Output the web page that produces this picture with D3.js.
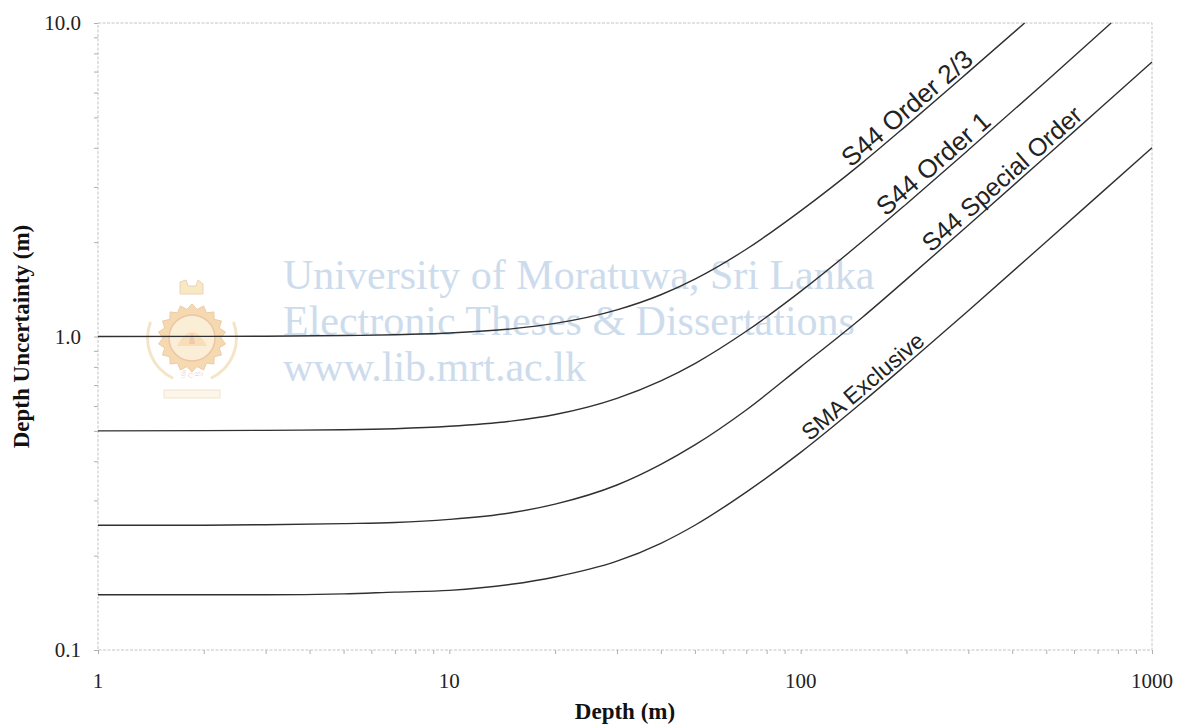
<!DOCTYPE html>
<html>
<head>
<meta charset="utf-8">
<script src="https://cdn.jsdelivr.net/npm/d3@7"></script>
<style>
  body { margin: 0; background: #fff; }
</style>
</head>
<body>
<div id="plot"></div>
<script>
// size of the page and the plot frame
const w = 1186;
const h = 727;
const margin = {top: 23, right: 34, bottom: 77, left: 98};

// data (depth in m, uncertainty in m)
const depth23 = [1, 2, 3, 5, 7, 10, 15, 20, 30, 40, 50, 70, 100, 150, 200, 300, 434];
const order23 = [1.000, 1.001, 1.002, 1.007, 1.013, 1.026, 1.058, 1.101, 1.216, 1.359, 1.524, 1.898, 2.517, 3.587, 4.707, 6.970, 10.0];

const depth1 = [1, 2, 3, 5, 7, 10, 15, 20, 30, 40, 50, 70, 100, 150, 200, 300, 500, 765];
const order1 = [0.500, 0.501, 0.502, 0.504, 0.508, 0.517, 0.537, 0.564, 0.635, 0.722, 0.820, 1.039, 1.393, 2.012, 2.648, 3.933, 6.519, 10.0];

const depthLow = [1, 2, 3, 5, 7, 10, 15, 20, 30, 40, 50, 70, 100, 150, 200, 300, 500, 700, 1000];
const special = [0.250, 0.250, 0.251, 0.253, 0.255, 0.261, 0.274, 0.292, 0.336, 0.391, 0.451, 0.583, 0.800, 1.152, 1.521, 2.264, 3.758, 5.256, 7.504];
const sma = [0.150, 0.150, 0.150, 0.151, 0.153, 0.155, 0.162, 0.171, 0.192, 0.219, 0.250, 0.319, 0.427, 0.618, 0.814, 1.209, 2.006, 2.804, 4.003];

const seriesNames = ["S44 Order 2/3", "S44 Order 1", "S44 Special Order", "SMA Exclusive"];
// depth where each curve label sits
const labelDepths = [212, 252, 395, 158];
const labelSizes = [26, 26, 25, 23];

const xTickLabels = ["1", "10", "100", "1000"];
const yTickLabels = ["0.1", "1.0", "10.0"];
const watermark = ["University of Moratuwa, Sri Lanka", "Electronic Theses & Dissertations", "www.lib.mrt.ac.lk"];

const series = [
  {name: seriesNames[0], x: depth23, y: order23},
  {name: seriesNames[1], x: depth1, y: order1},
  {name: seriesNames[2], x: depthLow, y: special},
  {name: seriesNames[3], x: depthLow, y: sma}
];

const svg = d3.select("div#plot")
  .append("svg")
    .attr("width", w)
    .attr("height", h);

const xScale = d3.scaleLog()
  .domain([1, 1000])
  .range([margin.left, w - margin.right]);

const yScale = d3.scaleLog()
  .domain([0.1, 10])
  .range([h - margin.bottom, margin.top]);

// watermark logo (faint)
const logo = svg.append("g")
  .attr("transform", "translate(192, 338)")
  .attr("opacity", 0.6);

const teeth = 18;
const gearPts = [];
for (let i = 0; i < teeth * 2; i++) {
  const a = i * Math.PI / teeth;
  const r = i % 2 === 0 ? 34 : 29;
  gearPts.push([r * Math.sin(a), -r * Math.cos(a)]);
}
logo.append("path")
  .attr("d", d3.line().curve(d3.curveLinearClosed)(gearPts))
  .attr("fill", "#f0c27e")
  .attr("stroke", "#e4a868")
  .attr("stroke-width", 1);
logo.append("circle")
  .attr("r", 23)
  .attr("fill", "#f9e3bd")
  .attr("stroke", "#e2a06a")
  .attr("stroke-width", 1.5);
logo.append("path")
  .attr("d", "M-15,8 Q0,-20 15,8 Z")
  .attr("fill", "#f3c98c");
logo.append("path")
  .attr("d", "M-3,6 Q0,-14 3,6 Z")
  .attr("fill", "#eaa27a");
// lion on top
logo.append("path")
  .attr("d", "M-12,-44 L-12,-56 L-6,-58 L-4,-52 L4,-52 L6,-58 L11,-54 L11,-44 Z")
  .attr("fill", "#f3dc9a")
  .attr("stroke", "#e0b58c");
// laurel
logo.append("path")
  .attr("d", d3.arc()({innerRadius: 43, outerRadius: 46, startAngle: -2.7, endAngle: -1.2}))
  .attr("fill", "#f0d5a5");
logo.append("path")
  .attr("d", d3.arc()({innerRadius: 43, outerRadius: 46, startAngle: 1.2, endAngle: 2.7}))
  .attr("fill", "#f0d5a5");
logo.append("text")
  .attr("y", 38)
  .attr("text-anchor", "middle")
  .attr("font-family", "Noto Sans")
  .attr("font-size", 7)
  .attr("fill", "#e3a9a0")
  .text("ශ්‍රී ලංකා");
logo.append("rect")
  .attr("x", -28)
  .attr("y", 52)
  .attr("width", 56)
  .attr("height", 8)
  .attr("fill", "#fbf0dc")
  .attr("stroke", "#efd4b0");

// watermark text
svg.append("g")
  .selectAll("text")
  .data(watermark)
  .enter()
  .append("text")
    .attr("x", 283)
    .attr("y", (d, i) => 289 + i * 46)
    .attr("font-family", "Liberation Serif")
    .attr("font-size", 42)
    .attr("fill", "#cddcec")
    .text(d => d);

// plot frame (light dotted)
svg.append("rect")
  .attr("x", margin.left)
  .attr("y", margin.top)
  .attr("width", w - margin.left - margin.right)
  .attr("height", h - margin.top - margin.bottom)
  .attr("fill", "none")
  .attr("stroke", "#c4c4c4")
  .attr("stroke-width", 1)
  .attr("stroke-dasharray", "3,1.5");

// axes (minor ticks only, labels added below)
const xAxis = d3.axisBottom(xScale)
  .tickValues(xScale.ticks())
  .tickSize(4)
  .tickFormat("");
const yAxis = d3.axisLeft(yScale)
  .tickValues(yScale.ticks())
  .tickSize(4)
  .tickFormat("");

svg.append("g")
  .attr("id", "xaxis")
  .attr("transform", `translate(0, ${h - margin.bottom})`)
  .call(xAxis);

svg.append("g")
  .attr("id", "yaxis")
  .attr("transform", `translate(${margin.left}, 0)`)
  .call(yAxis);

svg.selectAll("#xaxis path, #yaxis path").remove();
svg.selectAll("#xaxis line, #yaxis line")
  .attr("stroke", "#b0b0b0");

// tick labels
svg.append("g")
  .selectAll("text")
  .data(xTickLabels)
  .enter()
  .append("text")
    .attr("x", d => xScale(+d))
    .attr("y", 688)
    .attr("text-anchor", "middle")
    .attr("font-family", "Liberation Serif")
    .attr("font-size", 21)
    .attr("fill", "#222")
    .text(d => d);

svg.append("g")
  .selectAll("text")
  .data(yTickLabels)
  .enter()
  .append("text")
    .attr("x", 81)
    .attr("y", d => yScale(+d))
    .attr("dy", "0.35em")
    .attr("text-anchor", "end")
    .attr("font-family", "Liberation Serif")
    .attr("font-size", 21)
    .attr("fill", "#222")
    .text(d => d);

// axis titles
svg.append("text")
  .attr("x", (margin.left + w - margin.right) / 2)
  .attr("y", 719)
  .attr("text-anchor", "middle")
  .attr("font-family", "Liberation Serif")
  .attr("font-weight", "bold")
  .attr("font-size", 23)
  .attr("fill", "#111")
  .text("Depth (m)");

svg.append("text")
  .attr("transform", `translate(29, ${(margin.top + h - margin.bottom) / 2}) rotate(-90)`)
  .attr("text-anchor", "middle")
  .attr("font-family", "Liberation Serif")
  .attr("font-weight", "bold")
  .attr("font-size", 23)
  .attr("fill", "#111")
  .text("Depth Uncertainty (m)");

// curves
const line = d3.line()
  .x(d => xScale(d[0]))
  .y(d => yScale(d[1]))
  .curve(d3.curveMonotoneX);

const paths = svg.append("g")
  .selectAll("path")
  .data(series)
  .enter()
  .append("path")
    .attr("d", s => line(d3.zip(s.x, s.y)))
    .attr("fill", "none")
    .attr("stroke", "#303030")
    .attr("stroke-width", 1.4);

// find point on a path at a given pixel x
function pointAtX(node, px) {
  const total = node.getTotalLength();
  let lo = 0, hi = total;
  for (let k = 0; k < 40; k++) {
    const mid = (lo + hi) / 2;
    if (node.getPointAtLength(mid).x < px) lo = mid; else hi = mid;
  }
  const p = node.getPointAtLength(lo);
  const a = node.getPointAtLength(Math.max(0, lo - 6));
  const b = node.getPointAtLength(Math.min(total, lo + 6));
  return {x: p.x, y: p.y, angle: Math.atan2(b.y - a.y, b.x - a.x) * 180 / Math.PI};
}

// curve labels along the lines
paths.each(function(s, i) {
  const p = pointAtX(this, xScale(labelDepths[i]));
  svg.append("text")
    .attr("transform", `translate(${p.x}, ${p.y}) rotate(${p.angle})`)
    .attr("y", -4)
    .attr("text-anchor", "middle")
    .attr("font-family", "Liberation Sans")
    .attr("font-size", labelSizes[i])
    .attr("fill", "#222")
    .text(s.name);
});
</script>
</body>
</html>
